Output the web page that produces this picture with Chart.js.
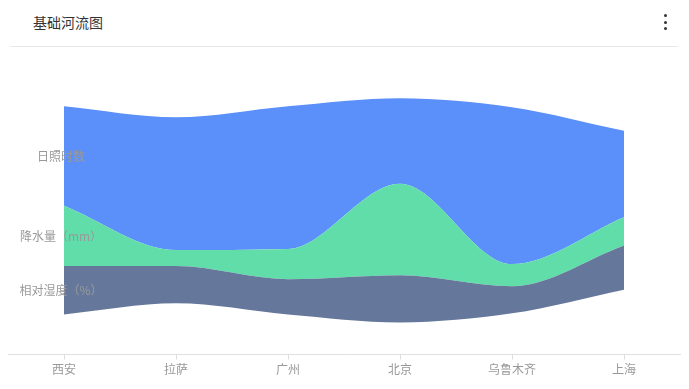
<!DOCTYPE html>
<html>
<head>
<meta charset="utf-8">
<script src="https://cdn.jsdelivr.net/npm/chart.js@4.4.0/dist/chart.umd.min.js"></script>
<style>
    body { margin: 0; width: 689px; height: 389px; background: #fff; position: relative; overflow: hidden;
           font-family: "Noto Sans CJK SC", "Noto Sans", sans-serif; }
    .title { position: absolute; left: 33px; top: 13px; font-size: 14px; line-height: 18px; color: #333; }
    .menu { position: absolute; left: 664px; top: 14px; }
    .menu span { display: block; width: 3px; height: 3px; border-radius: 50%; background: #333; margin-bottom: 3.5px; }
    .divider { position: absolute; left: 10px; top: 46px; width: 668px; height: 1px; background: #e8e8e8; }
    .wrap { position: absolute; left: 0; top: 47px; width: 689px; height: 333px; }
</style>
</head>
<body>
<div class="title">基础河流图</div>
<div class="menu"><span></span><span></span><span></span></div>
<div class="divider"></div>
<div class="wrap"><canvas id="river"></canvas></div>
<script>
// data
const cities = ['西安', '拉萨', '广州', '北京', '乌鲁木齐', '上海'];
const humidity = [48, 37, 35, 47, 27, 44];
const rainfall = [60, 16, 30, 91, 22, 28];
const sunshine = [99, 132, 142, 85, 156, 86];
const seriesNames = ['相对湿度（%）', '降水量（mm）', '日照时数'];
const seriesColors = ['#65789B', '#61DDAA', '#5B8FF9'];

const layers = [humidity, rainfall, sunshine];
// centre the stream around zero (silhouette baseline)
const baseline = cities.map((c, i) => -layers.reduce((s, l) => s + l[i], 0) / 2);

Chart.defaults.font.family = '"Noto Sans CJK SC", "Noto Sans", sans-serif';

// series names drawn at the start of each layer
const streamLabels = {
    id: 'streamLabels',
    afterDatasetsDraw(chart) {
        const { ctx, scales: { x, y } } = chart;
        ctx.save();
        ctx.font = '12px "Noto Sans CJK SC", sans-serif';
        ctx.fillStyle = '#999';
        ctx.textAlign = 'center';
        ctx.textBaseline = 'middle';
        let acc = baseline[0];
        layers.forEach((l, k) => {
            const mid = acc + l[0] / 2;
            ctx.fillText(seriesNames[k], x.getPixelForValue(0) - 3, y.getPixelForValue(mid));
            acc += l[0];
        });
        ctx.restore();
    }
};

const ctx = document.getElementById('river').getContext('2d');
new Chart(ctx, {
    type: 'line',
    data: {
        labels: cities,
        datasets: [
            {
                label: 'base',
                data: baseline,
                fill: false,
                borderColor: 'transparent',
                borderWidth: 0,
                pointRadius: 0,
                cubicInterpolationMode: 'monotone'
            },
            ...layers.map((d, k) => ({
                label: seriesNames[k],
                data: d,
                fill: '-1',
                backgroundColor: seriesColors[k],
                borderColor: 'transparent',
                borderWidth: 0,
                pointRadius: 0,
                cubicInterpolationMode: 'monotone'
            }))
        ]
    },
    options: {
        responsive: true,
        maintainAspectRatio: false,
        animation: false,
        layout: { padding: { top: 19, left: 8, right: 9, bottom: 0 } },
        plugins: {
            legend: { display: false },
            tooltip: { enabled: false }
        },
        scales: {
            x: {
                offset: true,
                grid: { offset: false, drawOnChartArea: false, drawTicks: true, tickLength: 5, color: '#ddd' },
                border: { color: '#e0e0e0' },
                ticks: { color: '#999', font: { size: 12 }, padding: 3, maxRotation: 0 }
            },
            y: {
                display: false,
                stacked: 'single',
                min: -143.5,
                max: 143.5
            }
        }
    },
    plugins: [streamLabels]
});
</script>
</body>
</html>
